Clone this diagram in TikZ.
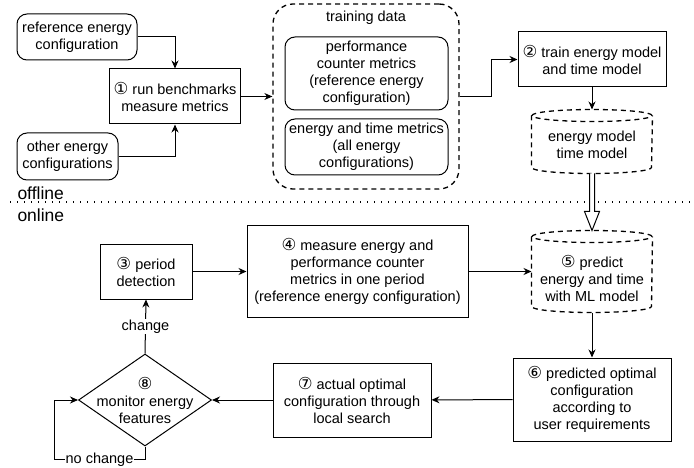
\documentclass[tikz,border=0pt]{standalone}
\usepackage{fontspec}
\setmainfont{Liberation Sans}
\newfontfamily\circfont{DejaVu Sans}
\usetikzlibrary{arrows.meta,calc,shapes.geometric}

\newcommand{\cnum}[1]{{\circfont\fontsize{16.5}{17}\selectfont #1}}

\begin{document}
\begin{tikzpicture}[x=1pt, y=-1pt,
    >={Stealth[length=8pt,width=7pt]},
    font=\fontsize{14.5}{17}\selectfont,
    line width=1pt,
    box/.style={rectangle, draw, align=center, inner sep=1pt},
    rbox/.style={box, rounded corners=10pt},
    dbase/.style={line width=1.3pt, dash pattern=on 5pt off 4pt},
    flow/.style={->}]

    \useasboundingbox (0,0) rectangle (694,468);

    % offline part
    \node[rbox,
          minimum width = 120pt,
          minimum height = 46pt
          ] (ref) at (77,37) {reference energy\\configuration};

    \node[box,
          minimum width = 131pt,
          minimum height = 55pt
          ] (run) at (175,96.5) {\cnum{①} run benchmarks\\measure metrics};

    \node[rbox,
          minimum width = 101pt,
          minimum height = 47pt
          ] (other) at (67.5,156.5) {other energy\\configurations};

    \node[rectangle,
          draw,
          rounded corners = 20pt,
          dbase,
          minimum width = 186pt,
          minimum height = 185pt
          ] (data) at (366,96.5) {};
    \node[] (data-lab) at (366,18) {training data};

    \node[rbox,
          minimum width = 163pt,
          minimum height = 73pt
          ] (perf) at (366.5,73.5) {performance\\counter metrics\\(reference energy\\configuration)};

    \node[rbox,
          minimum width = 163pt,
          minimum height = 56pt
          ] (etm) at (366.5,147) {energy and time metrics\\(all energy\\configurations)};

    \node[box,
          minimum width = 148pt,
          minimum height = 55pt
          ] (train) at (592,59.5) {\cnum{②} train energy model\\and time model};

    \node[rectangle,
          minimum width = 120pt,
          minimum height = 63pt
          ] (models) at (592,141.5) {};
    \node[align=center] (models-txt) at (592,145) {energy model\\time model};
    \draw[dbase] ($(models.north west)+(0,6)$) -- ($(models.south west)+(0,-6)$)
      arc[start angle=180, end angle=360, x radius=60pt, y radius=6pt]
      -- ($(models.north east)+(0,6)$);
    \draw[dbase] ($(models.north)+(0,6)$) ellipse [x radius=60pt, y radius=6pt];

    % separator
    \node[anchor=west, inner sep=0pt, font=\fontsize{17.5}{20}\selectfont] (offline) at (17,193) {offline};
    \node[anchor=west, inner sep=0pt, font=\fontsize{17.5}{20}\selectfont] (online) at (17,215) {online};
    \draw[line width=1.2pt, dash pattern=on 1.2pt off 5.8pt] (10,202) -- (694,202);

    % online part
    \node[rectangle,
          minimum width = 120pt,
          minimum height = 81pt
          ] (pred) at (592,271.5) {};
    \node[align=center] (pred-txt) at (592,278) {\cnum{⑤} predict\\energy and time\\with ML model};
    \draw[dbase] ($(pred.north west)+(0,6)$) -- ($(pred.south west)+(0,-6)$)
      arc[start angle=180, end angle=360, x radius=60pt, y radius=6pt]
      -- ($(pred.north east)+(0,6)$);
    \draw[dbase] ($(pred.north)+(0,6)$) ellipse [x radius=60pt, y radius=6pt];

    \node[box,
          minimum width = 221pt,
          minimum height = 91pt
          ] (meas) at (357.5,271.5) {\cnum{④} measure energy and\\performance counter\\metrics in one period\\(reference energy configuration)};

    \node[box,
          minimum width = 92pt,
          minimum height = 55pt
          ] (period) at (146,271.5) {\cnum{③} period\\detection};

    \node[diamond,
          draw,
          inner sep = 0pt,
          aspect = 1.45,
          minimum width = 133pt,
          minimum height = 92pt
          ] (mon) at (145,400) {};
    \node[align=center] (mon-txt) at (mon.center) {\cnum{⑧}\\monitor energy\\features};

    \node[box,
          minimum width = 158pt,
          minimum height = 74pt
          ] (act) at (352,400) {\cnum{⑦} actual optimal\\configuration through\\local search};

    \node[box,
          minimum width = 158pt,
          minimum height = 83pt
          ] (opt) at (592,399.5) {\cnum{⑥} predicted optimal\\configuration\\according to\\user requirements};

    \path[flow]
    (ref.east) edge [to path={-| (\tikztotarget)}] (run.north)
    (other.east) edge [to path={-| (\tikztotarget)}] (run.south)
    (run.east) edge [] (data.west)
    (train) edge [] (models)
    (period.east) edge [] (meas.west)
    (meas.east) edge [] (pred.west)
    (pred) edge [] (opt)
    (opt) edge [] (act)
    (act.west) edge [] (mon.east);

    \draw[flow] (data.east) -- ++(32,0) |- (train.west);
    \draw[flow] (mon.north) -- node[fill=white, inner sep=1pt] {change} (period.south);
    \draw[flow] (mon.south) -- ++(0,13) -- node[fill=white, inner sep=1pt] {no change} ++(-91,0) |- (mon.west);

    % hollow arrow from the models into prediction
    \draw[fill=white]
    ($(models.south)+(-2.5,0)$) -- ($(pred.north)+(-2.5,-19)$) -- ($(pred.north)+(-7.5,-19)$)
    -- (pred.north) -- ($(pred.north)+(7.5,-19)$) -- ($(pred.north)+(2.5,-19)$) -- ($(models.south)+(2.5,0)$);

\end{tikzpicture}
\end{document}
